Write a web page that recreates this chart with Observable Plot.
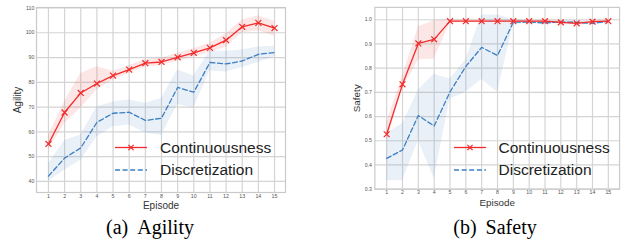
<!DOCTYPE html>
<html><head><meta charset="utf-8">
<script src="https://cdn.jsdelivr.net/npm/d3@7"></script>
<script src="https://cdn.jsdelivr.net/npm/@observablehq/plot@0.6"></script>
<style>
html,body{margin:0;padding:0;background:#fff}
body{width:624px;height:242px;overflow:hidden;position:relative;font-family:"Liberation Sans",Arial,sans-serif}
.panel{position:absolute;top:0}
#overlay{position:absolute;left:0;top:0;pointer-events:none}
</style>
</head><body>
<div id="left" class="panel" style="left:0px"></div>
<div id="right" class="panel" style="left:339px"></div>
<svg id="overlay" width="624" height="242"></svg>
<script>
// ---- data ----
const episodes = [1,2,3,4,5,6,7,8,9,10,11,12,13,14,15];
const seriesNames = ["Continuousness", "Discretization"];
const captions = [["(a)", "Agility"], ["(b)", "Safety"]];

const agilityTicks = [40,50,60,70,80,90,100,110];
const agilityCont   = [55.1,67.8,75.7,79.5,82.7,85.1,87.7,88.2,90.1,91.9,93.9,97.0,102.4,104.0,101.9];
const agilityContLo = [52.8,63.4,69.5,77.0,80.8,83.5,86.2,86.8,88.5,90.2,92.0,94.2,100.0,100.8,98.6];
const agilityContHi = [58.5,72.1,83.5,86.3,84.5,86.7,89.2,89.8,91.6,93.5,95.8,99.6,105.2,106.8,104.6];
const agilityDisc   = [42.1,49.4,53.5,63.8,67.5,67.9,64.6,65.5,77.9,76.0,88.0,87.4,88.6,91.3,92.0];
const agilityDiscLo = [40.0,44.5,48.5,58.0,62.0,62.8,59.5,58.5,71.0,69.6,84.6,84.2,86.0,88.0,90.3];
const agilityDiscHi = [47.0,56.5,58.7,70.0,72.0,72.8,71.5,73.5,85.0,82.5,92.5,92.5,93.0,94.3,94.6];

const safetyTicks = [0.3,0.4,0.5,0.6,0.7,0.8,0.9,1.0];
const safetyCont   = [0.527,0.733,0.902,0.919,0.994,0.994,0.994,0.994,0.994,0.994,0.994,0.989,0.985,0.992,0.994];
const safetyContLo = [0.497,0.713,0.835,0.838,0.985,0.989,0.989,0.989,0.989,0.989,0.989,0.983,0.979,0.986,0.989];
const safetyContHi = [0.575,0.767,0.970,0.997,1.000,0.999,0.999,0.999,0.999,0.999,0.999,0.995,0.991,0.998,0.999];
const safetyDisc   = [0.427,0.462,0.604,0.561,0.702,0.807,0.886,0.852,0.990,0.990,0.987,0.991,0.989,0.985,0.993];
const safetyDiscLo = [0.335,0.335,0.500,0.345,0.672,0.700,0.753,0.700,0.980,0.983,0.980,0.985,0.982,0.978,0.987];
const safetyDiscHi = [0.530,0.570,0.710,0.775,0.755,0.835,1.020,1.020,1.000,0.997,0.994,0.997,0.996,0.992,0.999];

const RED = "#f32a2a";
const BLUE = "#3b7fc2";
const GRID = "#d4d4d4";

function makePanel(o){
  const rows = episodes.map((e,i)=>({
    episode:e, cont:o.cont[i], contLo:o.contLo[i], contHi:o.contHi[i],
    disc:o.disc[i], discLo:o.discLo[i], discHi:o.discHi[i]
  }));
  return Plot.plot({
    width:o.width, height:215,
    marginLeft:36, marginRight:o.marginRight, marginTop:7, marginBottom:23,
    style:{background:"transparent", fontFamily:"'Liberation Sans', Arial, sans-serif", overflow:"visible"},
    x:{domain:o.xDomain},
    y:{domain:o.yDomain},
    marks:[
      Plot.gridX(episodes, {stroke:GRID, strokeOpacity:1, strokeWidth:1.2}),
      Plot.gridY(o.yTicks, {stroke:GRID, strokeOpacity:1, strokeWidth:1.2}),
      Plot.frame({stroke:"#c9c9c9", strokeWidth:1.2}),
      Plot.areaY(rows, {x:"episode", y1:"discLo", y2:"discHi", fill:"#4a86c4", fillOpacity:0.12}),
      Plot.areaY(rows, {x:"episode", y1:"contLo", y2:"contHi", fill:"#f03a3a", fillOpacity:0.13}),
      Plot.lineY(rows, {x:"episode", y:"disc", stroke:BLUE, strokeWidth:1.3, strokeDasharray:"5,2.6"}),
      Plot.lineY(rows, {x:"episode", y:"cont", stroke:RED, strokeWidth:1.3}),
      Plot.dot(rows, {x:"episode", y:"cont", symbol:"times", r:2.8, stroke:RED, strokeWidth:1.2}),
      Plot.axisX(episodes, {tickSize:0, tickPadding:1.5, fontSize:5.3, fill:"#555", label:null, tickFormat:d=>String(d)}),
      Plot.axisY(o.yTicks, {tickSize:0, tickPadding:o.tickPad, fontSize:5.3, fill:"#555", label:null, tickFormat:o.yFormat}),
      Plot.text([o.yLabel], {text:d=>d, frameAnchor:"left", textAnchor:"middle", lineAnchor:"middle", dx:-18.5, rotate:-90, fontSize:10, fill:"#333"}),
      Plot.text(["Episode"], {text:d=>d, frameAnchor:"bottom", textAnchor:"middle", lineAnchor:"middle", dy:13.5, fontSize:10, fill:"#333"})
    ]
  });
}

document.getElementById("left").appendChild(makePanel({
  cont:agilityCont, contLo:agilityContLo, contHi:agilityContHi,
  disc:agilityDisc, discLo:agilityDiscLo, discHi:agilityDiscHi,
  yDomain:[35.5,110.2], yTicks:agilityTicks, yFormat:d=>String(d),
  xDomain:[0.26,15.68], width:300, marginRight:15, yLabel:"Agility", tickPad:2
}));
document.getElementById("right").appendChild(makePanel({
  cont:safetyCont, contLo:safetyContLo, contHi:safetyContHi,
  disc:safetyDisc, discLo:safetyDiscLo, discHi:safetyDiscHi,
  yDomain:[0.3,1.051], yTicks:safetyTicks, yFormat:d3.format(".1f"),
  xDomain:[0.255,15.71], width:290, marginRight:5, yLabel:"Safety", tickPad:3
}));

// ---- legends and captions ----
const svg = d3.select("#overlay");
function legend(x0, x1, textX){
  const g = svg.append("g");
  g.append("line").attr("x1",x0).attr("x2",x1).attr("y1",147.5).attr("y2",147.5)
    .attr("stroke",RED).attr("stroke-width",1.3);
  const cx=(x0+x1)/2, cy=147.5, s=2.6;
  g.append("path").attr("d",`M${cx-s},${cy-s}L${cx+s},${cy+s}M${cx-s},${cy+s}L${cx+s},${cy-s}`)
    .attr("stroke",RED).attr("stroke-width",1.2).attr("fill","none");
  g.append("line").attr("x1",x0).attr("x2",x1).attr("y1",170).attr("y2",170)
    .attr("stroke",BLUE).attr("stroke-width",1.3).attr("stroke-dasharray","5,2.6");
  g.append("text").attr("x",textX).attr("y",153.2).text(seriesNames[0])
    .attr("font-family","'Liberation Sans', Arial, sans-serif").attr("font-size",15.5).attr("fill","#222");
  g.append("text").attr("x",textX).attr("y",175.4).text(seriesNames[1])
    .attr("font-family","'Liberation Sans', Arial, sans-serif").attr("font-size",15.5).attr("fill","#222");
}
legend(115,147,160);
legend(454,486,498.5);

function caption(cx, parts){
  const t = svg.append("text").attr("x",cx).attr("y",234).attr("text-anchor","middle")
    .attr("font-family","'Liberation Serif', 'Times New Roman', serif").attr("font-size",20).attr("fill","#000");
  t.append("tspan").text(parts[0]);
  t.append("tspan").attr("dx",9).text(parts[1]);
}
caption(150, captions[0]);
caption(495, captions[1]);
</script>
</body></html>
